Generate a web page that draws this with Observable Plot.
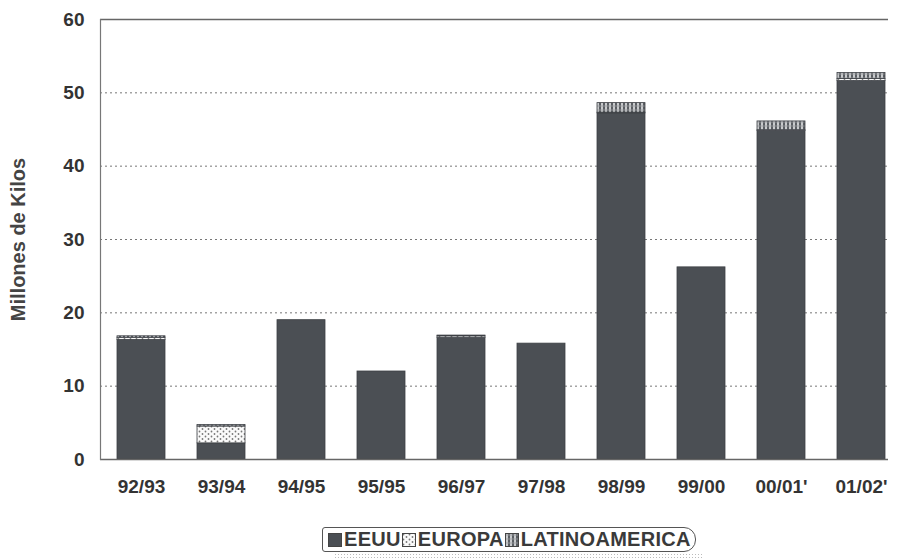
<!DOCTYPE html>
<html>
<head>
<meta charset="utf-8">
<script src="https://cdn.jsdelivr.net/npm/d3@7"></script>
<script src="https://cdn.jsdelivr.net/npm/@observablehq/plot@0.6"></script>
<style>
  html, body { margin: 0; padding: 0; background: #fff; }
  body { width: 899px; height: 559px; overflow: hidden; font-family: "Liberation Sans", Arial, sans-serif; }
  #chart svg { display: block; }
  #legend-wrap { position: relative; width: 899px; height: 44px; }
  #legend {
    position: absolute; left: 322px; top: 12px; height: 23px; padding: 0 4px 0 5px;
    border: 1.5px solid #555; border-radius: 3px 12px 12px 3px; background: #fff;
    display: flex; align-items: center; gap: 1px;
    font-weight: bold; font-size: 20px; color: #3a3a3a; letter-spacing: 0.3px;
  }
  #legend-shadow {
    position: absolute; left: 334px; top: 38px; width: 368px; height: 8px;
    background-image: radial-gradient(#bbb 0.8px, transparent 1px); background-size: 3px 3px;
  }
  .item { display: flex; align-items: center; }
  .item svg { margin-right: 2px; }
</style>
</head>
<body>
<svg width="0" height="0" style="position:absolute">
  <defs>
    <pattern id="pEuropa" width="6" height="5" patternUnits="userSpaceOnUse">
      <rect width="6" height="5" fill="#fafafa"/>
      <circle cx="1.5" cy="1.5" r="0.9" fill="#777"/>
      <circle cx="4.5" cy="4" r="0.9" fill="#777"/>
    </pattern>
    <pattern id="pLatino" width="4" height="4" patternUnits="userSpaceOnUse">
      <rect width="4" height="4" fill="#5a5e63"/>
      <rect x="1" y="0" width="2" height="4" fill="#c9cbcd"/>
      <rect x="0" y="1.6" width="4" height="0.8" fill="#9a9ca0"/>
    </pattern>
  </defs>
</svg>
<div id="chart"></div>
<div id="legend-wrap">
  <div id="legend-shadow"></div>
  <div id="legend"></div>
</div>
<script>
const seasons = ["92/93","93/94","94/95","95/95","96/97","97/98","98/99","99/00","00/01'","01/02'"];
const eeuu    = [16.3, 2.2, 19.0, 12.0, 16.6, 15.8, 47.2, 26.2, 44.8, 51.6];
const europa  = [0.3,  2.3, 0,    0,    0.2,  0,    0.1,  0,    0.1,  0.3];
const latino  = [0.2,  0.2, 0,    0,    0.1,  0,    1.3,  0,    1.2,  0.8];
const seriesNames = ["EEUU", "EUROPA", "LATINOAMERICA"];
const seriesFills = ["#4b4f54", "url(#pEuropa)", "url(#pLatino)"];
const yTicks = [0, 10, 20, 30, 40, 50, 60];
const gridTicks = [10, 20, 30, 40, 50];

const rows = [];
seasons.forEach((s, i) => {
  rows.push({season: s, series: "EEUU", value: eeuu[i]});
  rows.push({season: s, series: "EUROPA", value: europa[i]});
  rows.push({season: s, series: "LATINOAMERICA", value: latino[i]});
});

const plot = Plot.plot({
  width: 899,
  height: 515,
  marginLeft: 100,
  marginRight: 11,
  marginTop: 19,
  marginBottom: 56,
  style: {fontFamily: "'Liberation Sans', Arial, sans-serif", fontWeight: "bold", fontSize: "19px", color: "#333", background: "#fff"},
  x: {domain: seasons, paddingInner: 0.4, paddingOuter: 0.12, align: 0.87, label: null},
  y: {domain: [0, 60], label: null},
  color: {domain: seriesNames, range: seriesFills},
  marks: [
    Plot.ruleY(gridTicks, {stroke: "#777", strokeDasharray: "2,3", strokeWidth: 1}),
    Plot.barY(rows, {x: "season", y: "value", fill: "series", order: seriesNames, stroke: "#3d4045", strokeWidth: 0.8}),
    Plot.ruleY([0], {stroke: "#666", strokeWidth: 1.5}),
    Plot.ruleY([60], {stroke: "#666", strokeWidth: 1.5}),
    Plot.frame({anchor: "left", stroke: "#777", strokeWidth: 1.2}),
    Plot.axisY({ticks: yTicks, tickSize: 0, tickPadding: 16, fontSize: 19, fill: "#333",
      label: "Millones de Kilos", labelAnchor: "center", labelArrow: "none", labelOffset: 90}),
    Plot.axisX({tickSize: 0, tickPadding: 20, fontSize: 19, fill: "#333", label: null})
  ]
});
document.getElementById("chart").appendChild(plot);

d3.select(plot).selectAll("g[aria-label='y-axis label'] text").attr("font-size", 20).attr("fill", "#444");

const legend = document.getElementById("legend");
seriesNames.forEach((name, i) => {
  const item = document.createElement("div");
  item.className = "item";
  item.innerHTML = `<svg width="14" height="14"><rect x="0.5" y="0.5" width="13" height="13" fill="${seriesFills[i]}" stroke="#444" stroke-width="1"/></svg><span>${name}</span>`;
  legend.appendChild(item);
});
</script>
</body>
</html>
